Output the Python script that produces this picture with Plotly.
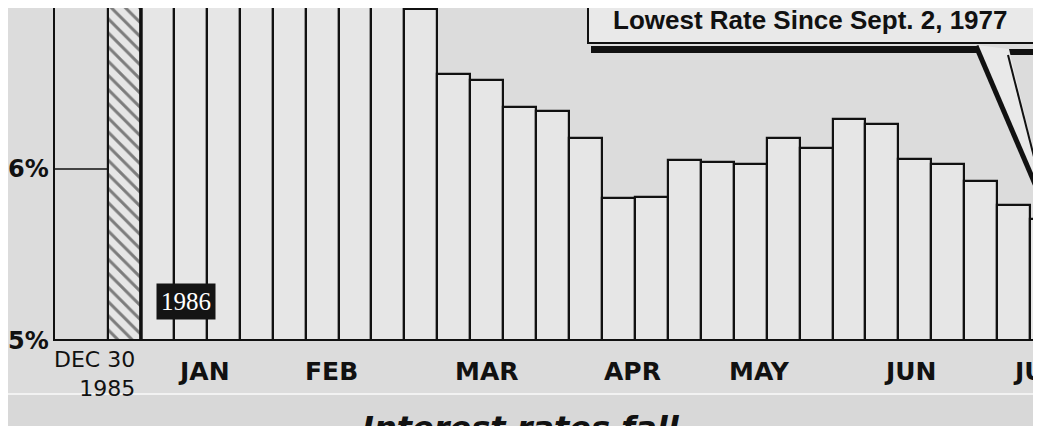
import plotly.graph_objects as go
import pandas as pd

# ---------------- data ----------------
week_dates = pd.date_range("1985-12-30", "1986-07-14", freq="7D")  # 29 weekly auctions
rates = [7.05, 7.05, 7.05, 7.05, 6.94, 7.05, 7.05, 6.97, 6.96, 6.93,
         6.55, 6.52, 6.36, 6.34, 6.18, 5.83, 5.84, 6.05, 6.04, 6.03,
         6.18, 6.12, 6.29, 6.26, 6.06, 6.03, 5.93, 5.79, 5.71]
month_labels = ["JAN", "FEB", "MAR", "APR", "MAY", "JUN", "JUL"]
month_label_dates = ["1986-01-16", "1986-02-12", "1986-03-17", "1986-04-17",
                     "1986-05-14", "1986-06-15", "1986-07-12"]
y_tick_vals = [5, 6, 7]
y_tick_text = ["5%", "6%", "7%"]
first_week_label = "DEC 30<br>1985"
year_tag = "1986"
callout_top = "July 14, <b>5.78%</b>"
callout_main = "Lowest Rate Since Sept. 2, 1977"
headline = "<b><i>Interest rates fall</i></b>"

# ---------------- geometry ----------------
# page body adds an 8px offset; target coordinates below are screen pixels
OFF = 8
SW, SH = 1041, 426
W, H = SW - OFF, SH - OFF
S_LEFT, S_BOTTOM = 55, 341           # screen position of plot left edge / 5% baseline
ML = S_LEFT - OFF
PH = S_BOTTOM - OFF
MB = H - PH
PW = W - ML
PX_PER_WEEK = 32.93
PX_PER_PCT = 172.0
X0 = -(124.5 - S_LEFT) / PX_PER_WEEK
X1 = X0 + PW / PX_PER_WEEK
Y0 = 5.0
Y1 = Y0 + PH / PX_PER_PCT

def dx(sx):
    return X0 + (sx - S_LEFT) / PX_PER_WEEK

def dy(sy):
    return Y0 + (S_BOTTOM - sy) / PX_PER_PCT

def py_paper(sy):
    return (S_BOTTOM - sy) / PH

def px_paper(sx):
    return (sx - S_LEFT) / PW

weeks = [(d - week_dates[0]).days / 7 for d in week_dates]
label_weeks = [(pd.Timestamp(d) - week_dates[0]).days / 7 for d in month_label_dates]

BG = "#dcdcdc"
BAR = "#e6e6e6"
BOX = "#e9e9e9"
INK = "#111111"

fig = go.Figure()
fig.add_trace(go.Bar(
    x=weeks, y=rates, width=1.0,
    marker=dict(
        color=BAR,
        line=dict(color=INK, width=2.2),
        pattern=dict(shape=["\\"] + [""] * (len(rates) - 1),
                     fgcolor=INK, bgcolor=BAR, size=10, solidity=0.3,
                     fillmode="overlay"),
    ),
    customdata=[d.strftime("%b %d, %Y") for d in week_dates],
    hovertemplate="%{customdata}: %{y:.2f}%<extra></extra>",
    showlegend=False,
))

shapes = []
# lower background band
shapes.append(dict(type="rect", xref="paper", yref="paper",
                   x0=-0.1, x1=1.1, y0=py_paper(SH + 10), y1=py_paper(394),
                   fillcolor="#d8d8d8", line=dict(width=0), layer="below"))
shapes.append(dict(type="line", xref="paper", yref="paper",
                   x0=-0.1, x1=1.1, y0=py_paper(394), y1=py_paper(394),
                   line=dict(color="#f2f2f2", width=2)))
# 6% leader line
shapes.append(dict(type="line", xref="x", yref="y",
                   x0=X0, x1=weeks[0] - 0.5, y0=6, y1=6,
                   line=dict(color=INK, width=1.6)))
# thicker right edge of hatched bar
shapes.append(dict(type="line", xref="x", yref="y",
                   x0=weeks[0] + 0.5, x1=weeks[0] + 0.5, y0=Y0, y1=Y1 + 1,
                   line=dict(color=INK, width=3.5)))
# baseline
shapes.append(dict(type="line", xref="x", yref="y",
                   x0=X0, x1=X1, y0=Y0, y1=Y0,
                   line=dict(color=INK, width=4)))
# callout box
shapes.append(dict(type="rect", xref="x", yref="y",
                   x0=dx(588), x1=X1 + 2, y0=dy(43), y1=Y1 + 1,
                   fillcolor=BOX, line=dict(color=INK, width=2)))
shapes.append(dict(type="line", xref="x", yref="y",
                   x0=dx(591), x1=dx(978), y0=dy(49.5), y1=dy(49.5),
                   line=dict(color=INK, width=7)))
shapes.append(dict(type="line", xref="x", yref="y",
                   x0=dx(1006), x1=X1 + 2, y0=dy(52), y1=dy(52),
                   line=dict(color=INK, width=6)))
tip_x, tip_y = weeks[-1] + 0.1, rates[-1]
shapes.append(dict(type="path", xref="x", yref="y",
                   path=f"M {dx(976)},{dy(45)} L {tip_x},{tip_y} L {dx(1009)},{dy(49)} Z",
                   fillcolor=BOX, line=dict(width=0)))
shapes.append(dict(type="line", xref="x", yref="y",
                   x0=dx(976), y0=dy(46), x1=tip_x, y1=tip_y,
                   line=dict(color=INK, width=5)))
shapes.append(dict(type="line", xref="x", yref="y",
                   x0=dx(1008), y0=dy(55), x1=tip_x, y1=tip_y,
                   line=dict(color=INK, width=2)))

annotations = []
# y labels
for v, t in zip(y_tick_vals, y_tick_text):
    annotations.append(dict(x=px_paper(51), xref="paper", y=v, yref="y",
                            text=f"<b>{t}</b>", showarrow=False,
                            xanchor="right", yanchor="middle",
                            font=dict(family="DejaVu Sans", size=24, color=INK)))
# month labels
for wk, lab in zip(label_weeks, month_labels):
    annotations.append(dict(x=wk, xref="x", y=py_paper(371), yref="paper",
                            text=f"<b>{lab}</b>", showarrow=False,
                            xanchor="center", yanchor="middle",
                            font=dict(family="DejaVu Sans", size=25, color=INK)))
# first week label
annotations.append(dict(x=px_paper(137), xref="paper", y=py_paper(345), yref="paper",
                        text=first_week_label, showarrow=False, align="right",
                        xanchor="right", yanchor="top",
                        font=dict(family="DejaVu Sans", size=22, color=INK)))
# 1986 tag
annotations.append(dict(x=dx(185.5), xref="x", y=dy(301.5), yref="y",
                        text=year_tag, showarrow=False, bgcolor="#141414",
                        borderpad=4,
                        font=dict(family="Liberation Serif", size=25, color="#ffffff")))
# callout text (first line mostly above the visible area, as in the clipping)
annotations.append(dict(x=px_paper(828), xref="paper", y=py_paper(-6), yref="paper",
                        text=callout_top, showarrow=False, xanchor="left", yanchor="middle",
                        font=dict(family="Liberation Sans", size=24, color=INK, weight="bold")))
annotations.append(dict(x=px_paper(611), xref="paper", y=py_paper(20), yref="paper",
                        text=callout_main, showarrow=False, xanchor="left", yanchor="middle",
                        font=dict(family="Liberation Sans", size=26, color=INK, weight="bold")))
# headline (cut off at bottom)
annotations.append(dict(x=px_paper(360), xref="paper", y=py_paper(407), yref="paper",
                        text=headline, showarrow=False, xanchor="left", yanchor="top",
                        font=dict(family="DejaVu Sans", size=32, color=INK)))

fig.update_layout(
    width=W, height=H,
    margin=dict(l=ML, r=0, t=0, b=MB, pad=0),
    paper_bgcolor=BG, plot_bgcolor=BG,
    bargap=0,
    xaxis=dict(range=[X0, X1], showticklabels=False, showgrid=False, zeroline=False,
               ticks="", showline=False, fixedrange=True),
    yaxis=dict(range=[Y0, Y1], showticklabels=False, showgrid=False, zeroline=False,
               ticks="", showline=True, linecolor=INK, linewidth=2, fixedrange=True),
    shapes=shapes, annotations=annotations,
)

fig.write_html("out.html")
